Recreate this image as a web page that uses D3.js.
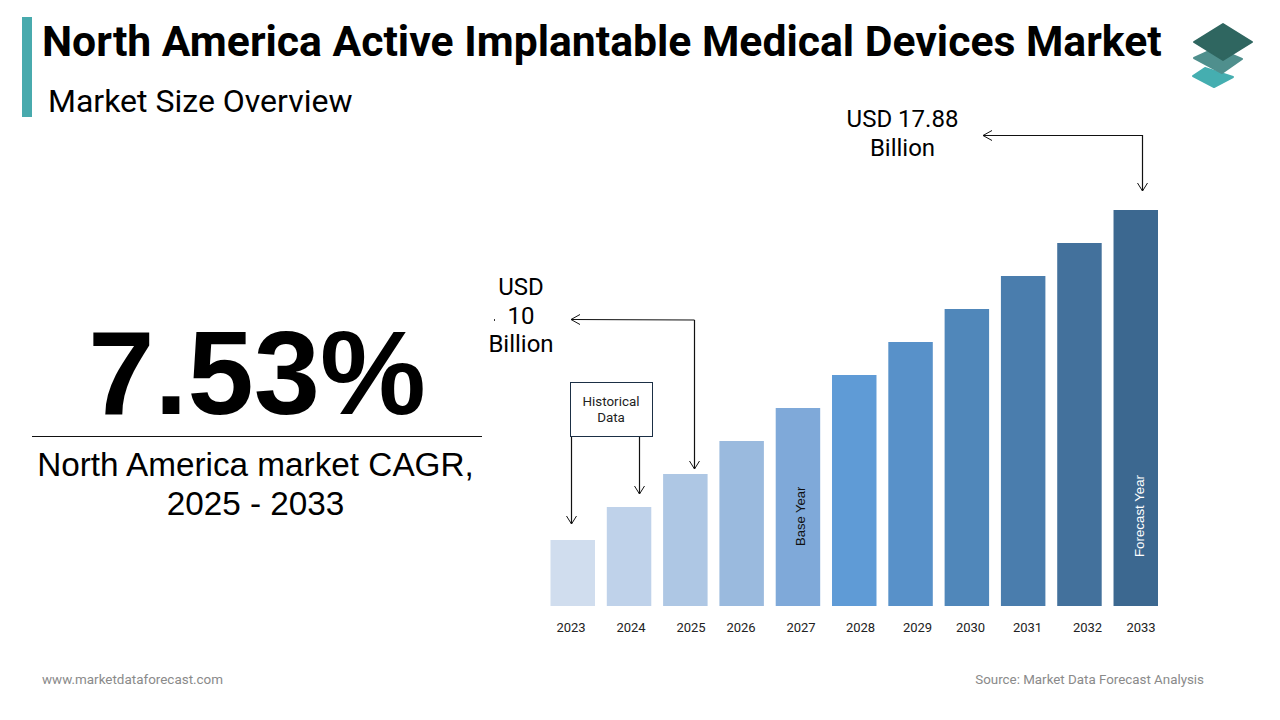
<!DOCTYPE html>
<html>
<head>
<meta charset="utf-8">
<script src="https://cdn.jsdelivr.net/npm/d3@7"></script>
<style>
  html, body { margin: 0; padding: 0; background: #fff; }
  svg { display: block; }
  text { font-family: Roboto, sans-serif; }
  text.arial { font-family: "Liberation Sans", Arial, sans-serif; }
  .axis path, .axis line { display: none; }
</style>
</head>
<body>
<svg id="chart" width="1280" height="720"></svg>
<script>
var years = ["2023", "2024", "2025", "2026", "2027", "2028", "2029", "2030", "2031", "2032", "2033"];
// bars are evenly stepped in the picture, read against 17.88 at the top
var marketSize = [2.98, 4.47, 5.96, 7.45, 8.94, 10.43, 11.92, 13.41, 14.90, 16.39, 17.88];
var barColors = ["#d0ddee", "#bfd2ea", "#aec7e4", "#9abade", "#7fa9d9", "#5f9bd6", "#5891c9", "#5087ba", "#4a7dad", "#43719c", "#3c6890"];
// the year labels do not sit exactly under the bars
var tickCenters = [570.5, 630.5, 690.5, 740.5, 800.5, 860, 917, 970, 1027, 1087, 1140.5];

var svg = d3.select("#chart");

var x = d3.scaleBand().domain(years).range([550.5, 1158]).paddingInner(0.21);
var y = d3.scaleLinear().domain([0, 17.88]).range([606, 210]);
var xTicks = d3.scaleOrdinal().domain(years).range(tickCenters);

// header
svg.append("rect").attr("x", 22).attr("y", 17).attr("width", 10).attr("height", 100).attr("fill", "#48aaad");
svg.append("text").attr("x", 42).attr("y", 56).attr("font-size", 42.7).attr("font-weight", 700)
    .text("North America Active Implantable Medical Devices Market");
svg.append("text").attr("x", 48).attr("y", 112).attr("font-size", 32)
    .text("Market Size Overview");

// logo
var logo = svg.append("g").attr("stroke-linejoin", "round").attr("stroke-width", 2);
logo.append("polygon").attr("points", "1193,76 1205,68 1233,77 1214,87").attr("fill", "#45aeb0").attr("stroke", "#45aeb0");
logo.append("polygon").attr("points", "1194,58 1216,48 1242,59 1222,73").attr("fill", "#4f8f8d").attr("stroke", "#4f8f8d");
logo.append("polygon").attr("points", "1194,42 1223,24 1252,42 1223,60").attr("fill", "#2f6660").attr("stroke", "#2f6660");

// left side
svg.append("text").attr("class", "arial").attr("x", 257).attr("y", 414).attr("text-anchor", "middle")
    .attr("font-size", 119).attr("font-weight", 700).text("7.53%");
svg.append("line").attr("x1", 32).attr("x2", 482).attr("y1", 436.5).attr("y2", 436.5).attr("stroke", "#111");
svg.append("text").attr("class", "arial").attr("x", 255.5).attr("y", 476).attr("text-anchor", "middle").attr("font-size", 33.3)
    .text("North America market CAGR,");
svg.append("text").attr("class", "arial").attr("x", 255.5).attr("y", 515).attr("text-anchor", "middle").attr("font-size", 33.3)
    .text("2025 - 2033");

// bars
svg.selectAll(".bar")
    .data(marketSize)
    .enter().append("rect")
    .attr("class", "bar")
    .attr("x", function (d, i) { return x(years[i]); })
    .attr("y", function (d) { return y(d); })
    .attr("width", x.bandwidth())
    .attr("height", function (d) { return y(0) - y(d); })
    .attr("fill", function (d, i) { return barColors[i]; });

var axis = svg.append("g")
    .attr("class", "axis")
    .attr("transform", "translate(0,606)")
    .call(d3.axisBottom(xTicks).tickSize(0).tickPadding(17));
axis.selectAll("text").attr("font-size", 13).attr("fill", "#222").style("font-family", "Roboto, sans-serif");

// labels inside the bars
svg.append("text").attr("class", "arial").attr("transform", "translate(805,546) rotate(-90)").attr("font-size", 13).attr("fill", "#111").text("Base Year");
svg.append("text").attr("class", "arial").attr("transform", "translate(1144,557) rotate(-90)").attr("font-size", 13.3).attr("fill", "#fff").text("Forecast Year");

// callouts
function arrowHead(px, py, dir) {
    var pts = dir === "down" ? [[px - 5, py - 8], [px, py], [px + 5, py - 8]] : [[px + 9, py - 5], [px, py], [px + 9, py + 5]];
    svg.append("path").attr("d", d3.line()(pts)).attr("fill", "none").attr("stroke", "#111").attr("stroke-width", 1);
}
function connector(pts) {
    svg.append("path").attr("d", d3.line()(pts)).attr("fill", "none").attr("stroke", "#111").attr("stroke-width", 1.2);
}
connector([[1142.5, 135.5], [983, 135.5]]);
connector([[1142.5, 135], [1142.5, 191]]);
arrowHead(983, 135.5, "left");
arrowHead(1142.5, 191, "down");

connector([[694.5, 320], [571, 319.5]]);
connector([[694.5, 320], [694.5, 469]]);
arrowHead(571, 319.5, "left");
arrowHead(694.5, 469, "down");

svg.append("rect").attr("x", 570.5).attr("y", 382.5).attr("width", 82).attr("height", 54).attr("fill", "#fff").attr("stroke", "#1b2f45");
svg.append("text").attr("x", 611).attr("y", 406).attr("text-anchor", "middle").attr("font-size", 13.4).attr("fill", "#222").text("Historical");
svg.append("text").attr("x", 611).attr("y", 422).attr("text-anchor", "middle").attr("font-size", 13.4).attr("fill", "#222").text("Data");
connector([[571.5, 437], [571.5, 524]]);
connector([[639.5, 437], [639.5, 494]]);
arrowHead(571.5, 524, "down");
arrowHead(639.5, 494, "down");

svg.append("text").attr("x", 902.5).attr("y", 127).attr("text-anchor", "middle").attr("font-size", 24).text("USD 17.88");
svg.append("text").attr("x", 902.5).attr("y", 156).attr("text-anchor", "middle").attr("font-size", 24).text("Billion");
svg.append("text").attr("x", 521).attr("y", 295).attr("text-anchor", "middle").attr("font-size", 24).text("USD");
svg.append("text").attr("x", 521).attr("y", 324).attr("text-anchor", "middle").attr("font-size", 24).text("10");
svg.append("text").attr("x", 521).attr("y", 352).attr("text-anchor", "middle").attr("font-size", 24).text("Billion");
svg.append("rect").attr("x", 494).attr("y", 319).attr("width", 1).attr("height", 2).attr("fill", "#333");

// footer
svg.append("text").attr("x", 42).attr("y", 684).attr("font-size", 13.45).attr("fill", "#8a8a8a").text("www.marketdataforecast.com");
svg.append("text").attr("x", 1204).attr("y", 684).attr("text-anchor", "end").attr("font-size", 13.35).attr("fill", "#8a8a8a").text("Source: Market Data Forecast Analysis");
</script>
</body>
</html>
